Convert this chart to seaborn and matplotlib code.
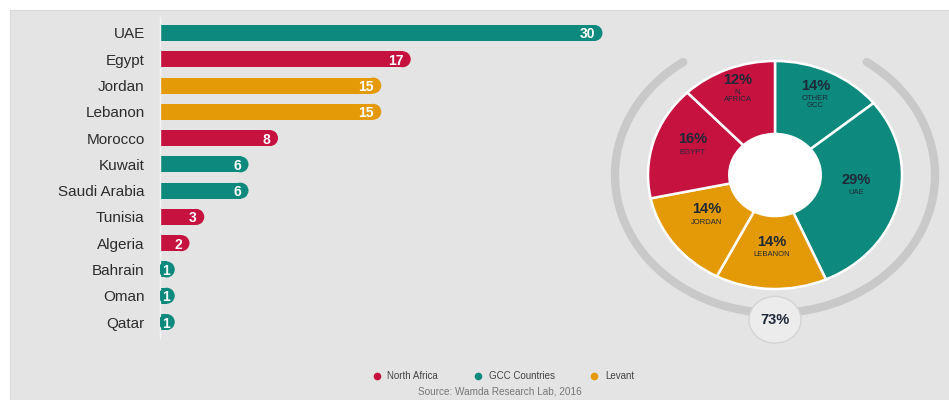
import numpy as np
import pandas as pd
import matplotlib
matplotlib.use("Agg")
import matplotlib.pyplot as plt
from matplotlib.patches import Ellipse, Rectangle
from matplotlib.lines import Line2D
import seaborn as sns

# ---- data -------------------------------------------------------------
countries = ["UAE", "Egypt", "Jordan", "Lebanon", "Morocco", "Kuwait",
             "Saudi Arabia", "Tunisia", "Algeria", "Bahrain", "Oman", "Qatar"]
counts = [30, 17, 15, 15, 8, 6, 6, 3, 2, 1, 1, 1]
regions = ["GCC Countries", "North Africa", "Levant", "Levant", "North Africa",
           "GCC Countries", "GCC Countries", "North Africa", "North Africa",
           "GCC Countries", "GCC Countries", "GCC Countries"]

share_labels = ["OTHER\nGCC", "UAE", "LEBANON", "JORDAN", "EGYPT", "N.\nAFRICA"]
share_values = [14, 29, 14, 14, 16, 12]
share_regions = ["GCC Countries", "GCC Countries", "Levant", "Levant",
                 "North Africa", "North Africa"]
ring_total = "73%"

legend_order = ["North Africa", "GCC Countries", "Levant"]
source_text = "Source: Wamda Research Lab, 2016"

# ---- style ------------------------------------------------------------
palette = {"North Africa": "#c5123f", "GCC Countries": "#0d8a7d", "Levant": "#e49a06"}
panel_bg = "#e4e4e4"
navy = "#1f2838"

sns.set_theme(style="white")
plt.rcParams["font.family"] = ["Liberation Sans", "DejaVu Sans"]

W, H, DPI = 9.49, 4.0, 100
fig = plt.figure(figsize=(W, H), dpi=DPI)
fig.patch.set_facecolor("white")
fig.patches.append(Rectangle((10 / 949, 0), 1, 390 / 400, transform=fig.transFigure,
                             facecolor=panel_bg, edgecolor="#dadada", lw=0.8, zorder=-10))

# ---- horizontal bars with rounded ends --------------------------------
ax_left_px, ax_right_px = 160, 620
top_px, bottom_px = 17.2, 337.8
ax = fig.add_axes([ax_left_px / 949, (400 - bottom_px) / 400,
                   (ax_right_px - ax_left_px) / 949, (bottom_px - top_px) / 400])
ax.set_facecolor("none")
px_per_unit = 14.75
xmax = (ax_right_px - ax_left_px) / px_per_unit
bar_px = 16
cap_r = (bar_px / 2) / px_per_unit  # cap radius in data units

df = pd.DataFrame({"country": countries, "count": counts, "region": regions})
df["body"] = df["count"] - cap_r

sns.barplot(data=df, x="body", y="country", hue="region", order=countries,
            palette=palette, dodge=False, width=bar_px / 26.27, orient="h",
            legend=False, ax=ax, linewidth=0, saturation=1)
sns.scatterplot(data=df, x="body", y="country", hue="region", palette=palette,
                s=(bar_px * 72 / DPI) ** 2, linewidth=0, legend=False, ax=ax, zorder=3)

for i, (c, v) in enumerate(zip(countries, counts)):
    if v > 1:
        ax.text(v - 7.5 / px_per_unit, i, str(v), ha="right", va="center_baseline",
                color="white", fontsize=10, fontweight="bold", zorder=5)
    else:
        ax.text(v - 9 / px_per_unit, i, str(v), ha="center", va="center_baseline",
                color="white", fontsize=10, fontweight="bold", zorder=5)

ax.set_xlim(0, xmax)
ax.set_ylim(len(countries) - 1 + 0.6, -0.6)
ax.set_xlabel("")
ax.set_ylabel("")
ax.set_xticks([])
for s in ["top", "right", "bottom"]:
    ax.spines[s].set_visible(False)
ax.spines["left"].set_color("#f4f4f4")
ax.spines["left"].set_linewidth(1.0)
ax.tick_params(axis="y", length=0, pad=11, labelsize=11, labelcolor="#2c2c2c")

# ---- donut ------------------------------------------------------------
cx, cy, rx, ry = 775, 175, 127, 114
span = 1.5
pax = fig.add_axes([(cx - span * rx) / 949, (400 - cy - span * ry) / 400,
                    2 * span * rx / 949, 2 * span * ry / 400])
pax.set_facecolor("none")

# grey ring around the donut
t = np.radians(np.linspace(125, 415, 300))
pax.plot(1.26 * np.cos(t), 1.21 * np.sin(t), color="#c9c9c9", lw=6,
         solid_capstyle="round", zorder=1)

wedges, _ = pax.pie(share_values, colors=[palette[r] for r in share_regions],
                    startangle=90, counterclock=False, radius=1,
                    wedgeprops=dict(width=0.64, edgecolor="white", linewidth=1.8))
for w in wedges:
    w.set_zorder(2)
pax.add_patch(Ellipse((0, 0), 0.73, 0.73, facecolor="white", edgecolor="none", zorder=1.5))

total = sum(share_values)
cum = np.cumsum([0] + share_values)
label_r = [0.74, 0.66, 0.70, 0.68, 0.68, 0.78]
for i, (lab, val) in enumerate(zip(share_labels, share_values)):
    mid = np.radians(90 - 360 * (cum[i] + val / 2) / total)
    x, y = label_r[i] * np.cos(mid), label_r[i] * np.sin(mid)
    pax.text(x, y + 0.05, f"{val}%", ha="center", va="bottom", fontsize=10.5,
             fontweight="bold", color=navy, zorder=4)
    pax.text(x, y + 0.03, lab, ha="center", va="top", fontsize=5.5,
             color=navy, linespacing=1.0, zorder=4)

pax.add_patch(Ellipse((0, -1.27), 0.41, 0.41, facecolor="#ececec",
                      edgecolor="#d4d4d4", lw=1.0, zorder=3))
pax.text(0, -1.27, ring_total, ha="center", va="center", fontsize=10.5,
         fontweight="bold", color=navy, zorder=4)
pax.set_xlim(-span, span)
pax.set_ylim(-span, span)
pax.set_aspect("auto")
pax.axis("off")

# ---- legend and source ------------------------------------------------
handles = [Line2D([0], [0], marker="o", linestyle="none", markersize=5.5,
                  markerfacecolor=palette[r], markeredgewidth=0, label=r)
           for r in legend_order]
fig.legend(handles=handles, loc="center", bbox_to_anchor=(503 / 949, 1 - 376 / 400),
           ncol=3, frameon=False, fontsize=7, handlelength=1.0, handletextpad=0.6,
           columnspacing=3.6, labelcolor="#444444")
fig.text(500 / 949, 1 - 391 / 400, source_text, ha="center", va="center",
         fontsize=7.2, color="#777777")

fig.savefig("out.png", dpi=DPI)
